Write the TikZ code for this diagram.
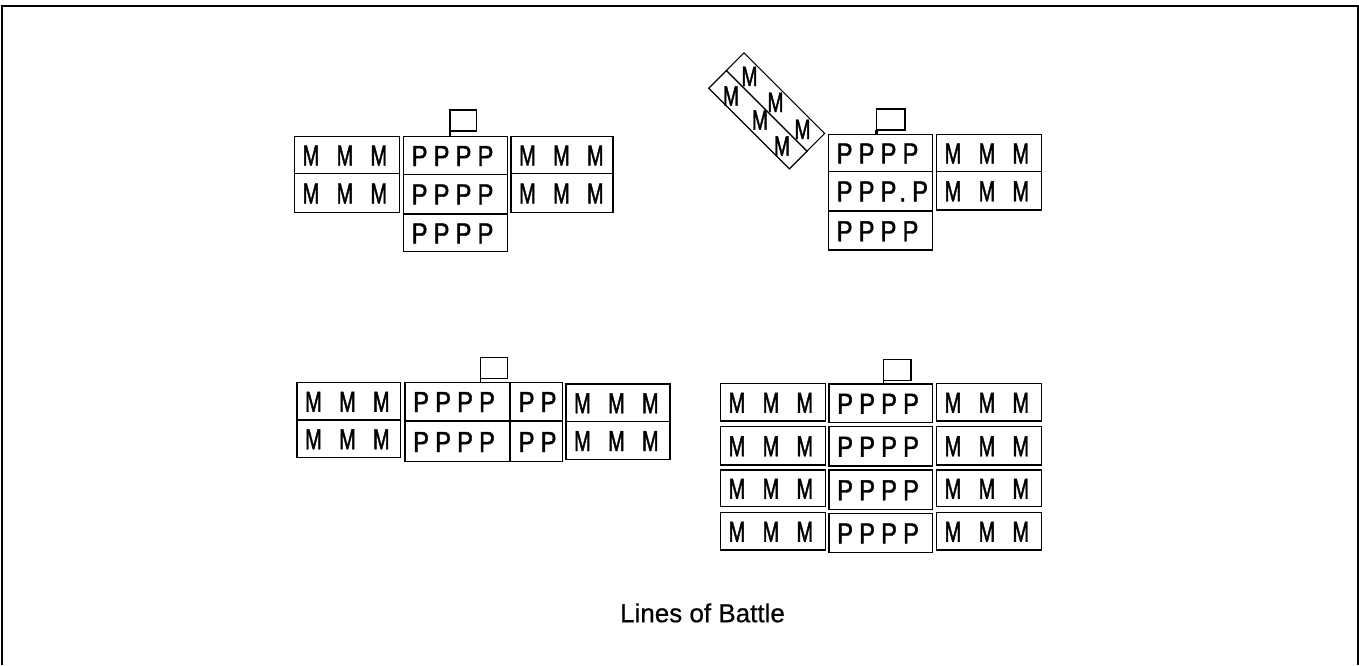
\documentclass[tikz,border=0pt]{standalone}
\usepackage{fontspec}
\setmainfont{Liberation Sans}
\newfontfamily\mfont[FakeStretch=0.685,WordSpace=3.15,FakeBold=1.4]{Liberation Sans}
\newfontfamily\pfont[FakeStretch=0.82,LetterSpace=21,FakeBold=1.4]{Liberation Sans}
\newfontfamily\tfont[FakeBold=0.6]{Liberation Sans}
\newcommand\bx[7]{%
  \node[box, anchor=north west, minimum width={#4-#2}, minimum height={#5-#3}] (#1) at (#2,#3) {};
  \node[#6, anchor=west] (#1t) at ([xshift=8pt]#1.west) {#7};}
\newcommand\flag[4]{%
  \node[box, anchor=north west, minimum width={#4-#2}, minimum height=21] (#1) at (#2,#3) {};}
\tikzset{
  box/.style={draw, line width=1.8pt, inner sep=0pt, outer sep=0pt},
  mt/.style={font={\mfont\fontsize{29pt}{32pt}\selectfont}, inner sep=0pt, text height=21pt, text depth=0pt},
  pt/.style={font={\pfont\fontsize{29pt}{32pt}\selectfont}, inner sep=0pt, text height=21pt, text depth=0pt},
  pole/.style={line width=1.8pt},
  rbox/.style={draw, line width=1.1pt, inner sep=0pt, minimum width=114pt, minimum height=25pt, rotate=-45},
  rm/.style={font={\mfont\fontsize{28pt}{30pt}\selectfont}, inner sep=0pt, text height=20pt, text depth=0pt},
}
\begin{document}
\begin{tikzpicture}[x=1pt,y=-1pt]
\useasboundingbox (0,0) rectangle (1359,665);
\draw[line width=2pt] (1.5,665) -- (1.5,5.5) -- (1357.5,5.5) -- (1357.5,665);
% group 1
\bx{g1m1}{294.5}{136.5}{399.5}{173.5}{mt}{M M M}
\bx{g1m2}{294.5}{173.5}{399.5}{212.5}{mt}{M M M}
\bx{g1p1}{403.5}{136.5}{507.5}{174.5}{pt}{PPPP}
\bx{g1p2}{403.5}{174.5}{507.5}{213.5}{pt}{PPPP}
\bx{g1p3}{403.5}{214.5}{507.5}{251.5}{pt}{PPPP}
\bx{g1r1}{511}{136.5}{613}{173.5}{mt}{M M M}
\bx{g1r2}{511}{173.5}{613}{212.5}{mt}{M M M}
\flag{g1f}{450}{110}{476.5}
\draw[pole] (g1f.south west) -- (g1f.south west |- g1p1.north);
% group 2
\bx{g2p1}{828.5}{134.5}{932.5}{171.5}{pt}{PPPP}
\bx{g2p2}{828.5}{171.5}{932.5}{210.5}{pt}{PPP.P}
\bx{g2p3}{828.5}{211.5}{932.5}{250}{pt}{PPPP}
\bx{g2r1}{936.5}{134.5}{1041.5}{171.5}{mt}{M M M}
\bx{g2r2}{936.5}{171.5}{1041.5}{210}{mt}{M M M}
\flag{g2f}{876.5}{109}{905}
\draw[pole, line width=3pt] (g2f.south west) -- (g2f.south west |- g2p1.north);
\node[rbox] (g2a) at (775.5,102) {};
\node[rbox] (g2b) at (757.9,119.7) {};
\node[rm] (g2a1) at ([shift={(-26,-26)}]g2a.center) {M};
\node[rm] (g2a2) at (g2a.center) {M};
\node[rm] (g2a3) at ([shift={(27,27)}]g2a.center) {M};
\node[rm] (g2b1) at ([shift={(-27,-24)}]g2b.center) {M};
\node[rm] (g2b2) at ([shift={(2,0)}]g2b.center) {M};
\node[rm] (g2b3) at ([shift={(24,26)}]g2b.center) {M};
% group 3
\bx{g3m1}{297}{382.5}{400.5}{420}{mt}{M M M}
\bx{g3m2}{297}{420}{400.5}{457.5}{mt}{M M M}
\bx{g3p1}{405}{382.5}{509.5}{420.5}{pt}{PPPP}
\bx{g3p2}{405}{421.5}{509.5}{461.5}{pt}{PPPP}
\bx{g3q1}{510.5}{382.5}{562.5}{420.5}{pt}{PP}
\bx{g3q2}{510.5}{421.5}{562.5}{461.5}{pt}{PP}
\bx{g3r1}{566}{384}{670}{421.5}{mt}{M M M}
\bx{g3r2}{566}{421.5}{670}{459.5}{mt}{M M M}
\flag{g3f}{480.5}{357.5}{507.5}
\draw[pole] (g3f.south west) -- (g3f.south west |- g3p1.north);
% group 4
\bx{g4l1}{720.5}{383.5}{825.5}{421}{mt}{M M M}
\bx{g4l2}{720.5}{426.5}{825.5}{465}{mt}{M M M}
\bx{g4l3}{720.5}{470}{825.5}{506.5}{mt}{M M M}
\bx{g4l4}{720.5}{512.5}{825.5}{550}{mt}{M M M}
\bx{g4p1}{829}{384}{932.5}{422.5}{pt}{PPPP}
\bx{g4p2}{829}{426.5}{932.5}{466}{pt}{PPPP}
\bx{g4p3}{829}{470}{932.5}{509.5}{pt}{PPPP}
\bx{g4p4}{829}{513.5}{932.5}{552.5}{pt}{PPPP}
\bx{g4r1}{936.5}{383.5}{1041.5}{421}{mt}{M M M}
\bx{g4r2}{936.5}{426.5}{1041.5}{465}{mt}{M M M}
\bx{g4r3}{936.5}{470}{1041.5}{506.5}{mt}{M M M}
\bx{g4r4}{936.5}{512.5}{1041.5}{550}{mt}{M M M}
\flag{g4f}{883.5}{359.5}{911}
\draw[pole] (g4f.south west) -- (g4f.south west |- g4p1.north);
% title
\node[font={\tfont\fontsize{26pt}{30pt}\selectfont}, inner sep=0pt, text height=19pt, text depth=0pt] (title) at (702.5,612.7) {Lines of Battle};
\end{tikzpicture}
\end{document}
